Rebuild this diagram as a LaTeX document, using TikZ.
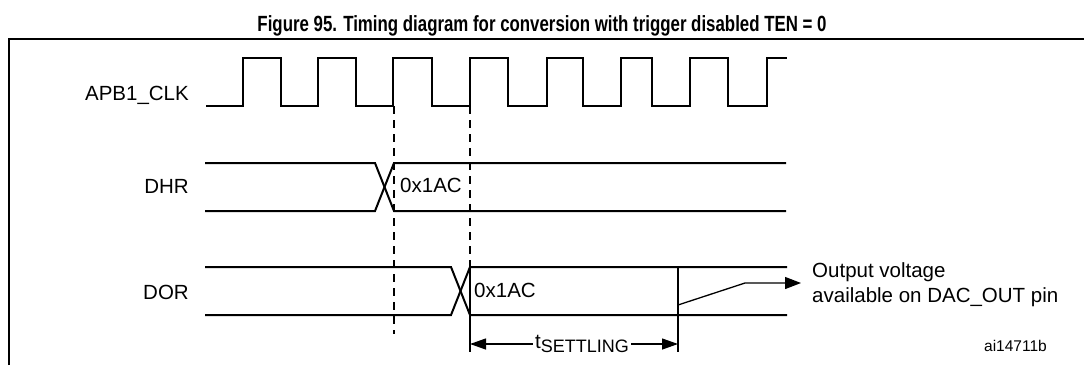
\documentclass[tikz,border=0pt]{standalone}
\usepackage{graphicx}
\usepackage{fontspec}
\setmainfont{Liberation Sans}
\usetikzlibrary{arrows.meta}
\tikzset{
  sig/.style={line width=2pt},
  thin/.style={line width=1.3pt},
  guide/.style={line width=1.4pt, dash pattern=on 8pt off 6pt},
  tip/.style={Triangle[length=16pt,width=11pt]},
  dim/.style={thin, {Triangle[length=16pt,width=11pt]}-{Triangle[length=16pt,width=11pt]}},
  lbl/.style={font=\fontsize{20.5}{25}\selectfont, inner sep=0pt}
}
\begin{document}
\begin{tikzpicture}[x=1pt,y=-1pt]
\useasboundingbox (0,0) rectangle (1084,365);
% title and frame
\node[font=\bfseries\fontsize{22}{26}\selectfont, anchor=base, inner sep=0pt] (title) at (542,31)
  {\resizebox{569pt}{\height}{Figure 95. Timing diagram for conversion with trigger disabled TEN = 0}};
\draw[line width=1.6pt] (9,365) -- (9,39) -- (1084,39);
% signal names
\node[lbl, anchor=east] (lclk) at (189,95) {APB1\_CLK};
\node[lbl, anchor=east] (ldhr) at (189,186) {DHR};
\node[lbl, anchor=east] (ldor) at (189,292) {DOR};
% clock
\draw[sig] (206,106) \foreach \r/\f in {243/281,318/356,393/432,470/508,547/583,621/652,690/728}{
  -- (\r,106) -- (\r,58) -- (\f,58) -- (\f,106)}
  -- (767,106) -- (767,58) -- (787,58);
% guide lines
\draw[guide] (394,106) -- (394,334);
\draw[guide] (470,106) -- (470,267);
% DHR
\draw[sig] (205,163) -- (375,163) -- (394,211) -- (786,211);
\draw[sig] (205,211) -- (375,211) -- (394,163) -- (786,163);
\node[lbl, anchor=west] (vdhr) at (400,185) {0x1AC};
% DOR
\draw[sig] (205,267) -- (451,267) -- (470,315) -- (787,315);
\draw[sig] (205,315) -- (451,315) -- (470,267) -- (787,267);
\node[lbl, anchor=west] (vdor) at (474,290) {0x1AC};
\draw[thin] (470,267) -- (470,352);
\draw[thin] (678,267) -- (678,352);
% output ramp
\node[lbl, anchor=west, align=left] (outv) at (812,285) {Output voltage\\available on DAC\_OUT pin};
\coordinate (r0) at (678,305);
\coordinate (r1) at (745,283);
\draw[thin, -{Triangle[length=16pt,width=12pt]}] (r0) -- (r1) -- (801,283);
% settling time
\coordinate (ts) at (470,344);
\coordinate (te) at (678,344);
\draw[dim] (ts) -- (te) node[midway, xshift=8pt, fill=white, lbl, inner sep=2pt] (tset)
  {t\raisebox{-0.3ex}{\fontsize{18}{20}\selectfont SETTLING}};
\node[font=\fontsize{15.5}{18}\selectfont, anchor=east, inner sep=0pt] (fig) at (1047,346) {ai14711b};
\end{tikzpicture}
\end{document}
